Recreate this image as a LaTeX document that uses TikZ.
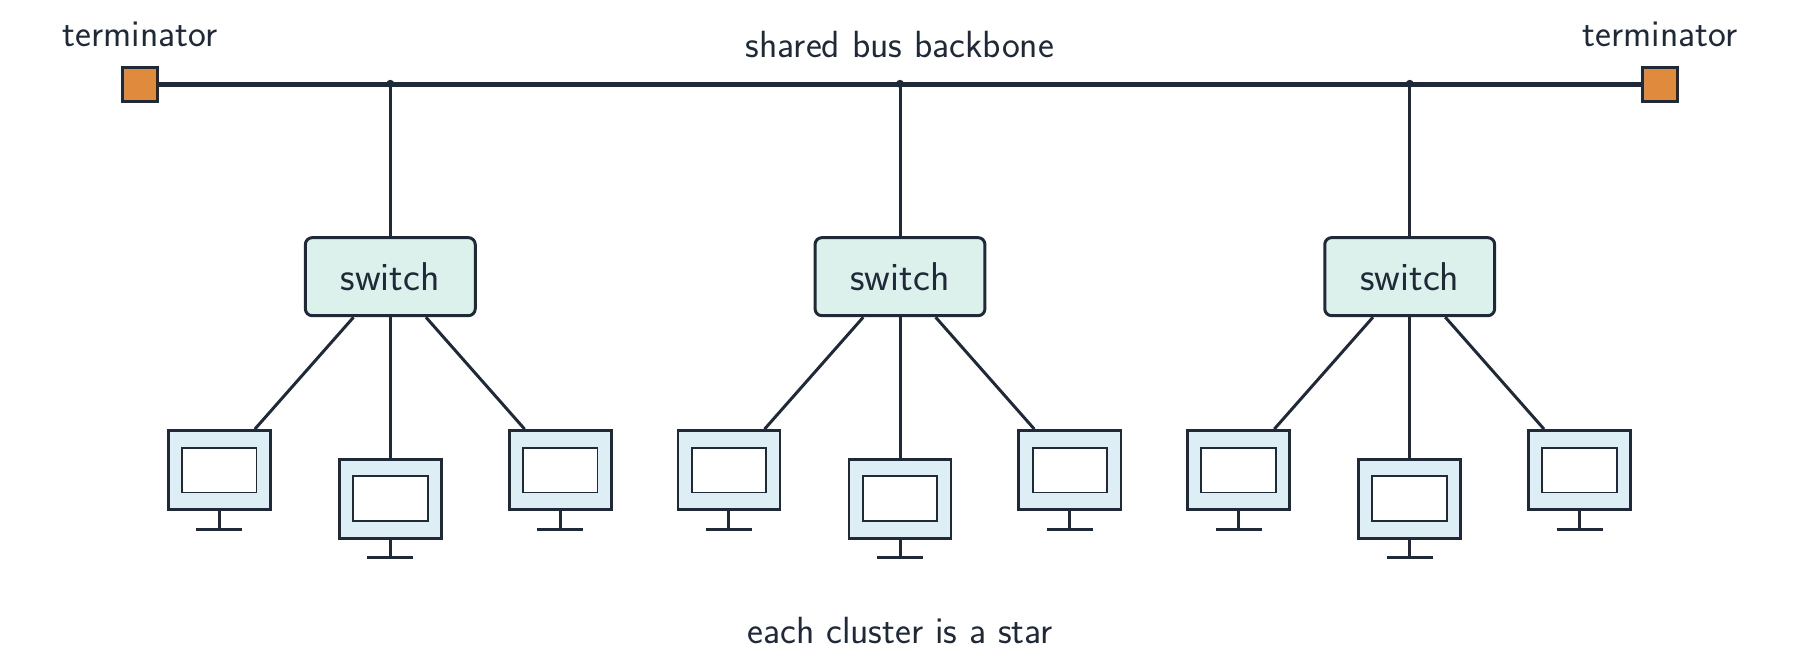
\documentclass[tikz,border=0pt]{standalone}
\usepackage{fontspec}
\begin{document}
\begin{tikzpicture}[x=0.5pt,y=-0.5pt,
  every node/.style={font=\sffamily\fontsize{16.5}{19}\selectfont, text=ink},
  ln/.style={draw=ink, line width=1.3pt},
  term/.style={draw=ink, line width=1.3pt, fill=termor, minimum size=15pt, inner sep=0pt},
  sw/.style={draw=ink, line width=1.3pt, fill=swfill, rounded corners=3pt, minimum width=74pt, minimum height=34pt, font=\sffamily\fontsize{17.5}{20}\selectfont},
  mon/.style={draw=ink, line width=1.2pt, fill=monfill, minimum width=44.5pt, minimum height=34.5pt, inner sep=0pt},
  scr/.style={draw=ink, line width=0.8pt, fill=white, minimum width=32.5pt, minimum height=19.5pt, inner sep=0pt}]
\definecolor{ink}{HTML}{1F2937}
\definecolor{termor}{HTML}{E08A3E}
\definecolor{swfill}{HTML}{DCF1EC}
\definecolor{monfill}{HTML}{DDEEF5}
\useasboundingbox (0,0) rectangle (1568,580);
\node[term] (tl) at (122,73.5) {};
\node[term] (tr) at (1446,73.5) {};
\node (ltl) at (122,30) {terminator};
\node (ltr) at (1446,30) {terminator};
\node (bb) at (784,39) {shared bus backbone};
\draw[draw=ink, line width=2pt] (tl.east) -- (tr.west);
\node (foot) at (784,549) {each cluster is a star};
\foreach \i/\cx in {1/340,2/784,3/1228}{
  \coordinate (j\i) at (\cx,73);
  \fill[ink] (j\i) circle (3.5);
  \node[sw] (s\i) at (\cx,241) {switch};
  \draw[ln] (j\i) -- (s\i.north);
  \foreach \k/\dx/\ty in {a/-149/375,b/0/400,c/148/375}{
    \node[mon] (m\i\k) at (\cx+\dx,\ty+34.5) {};
    \node[scr] (c\i\k) at (\cx+\dx,\ty+34.5) {};
    \coordinate (st\i\k) at (\cx+\dx,\ty+86);
    \draw[ln] (m\i\k.south) -- (st\i\k);
    \draw[ln] ([xshift=-10pt]st\i\k) -- ([xshift=10pt]st\i\k);
  }
  \draw[ln] ([xshift=-16pt]s\i.south) -- ([xshift=15.5pt]m\i a.north);
  \draw[ln] (s\i.south) -- (m\i b.north);
  \draw[ln] ([xshift=15.5pt]s\i.south) -- ([xshift=-15.5pt]m\i c.north);
}
\end{tikzpicture}
\end{document}
